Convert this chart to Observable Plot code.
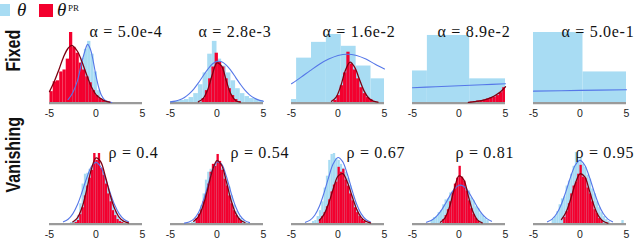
<!DOCTYPE html>
<html>
<head>
<meta charset="utf-8">
<script src="https://cdn.jsdelivr.net/npm/d3@7"></script>
<script src="https://cdn.jsdelivr.net/npm/@observablehq/plot@0.6"></script>
<style>
  html, body { margin: 0; padding: 0; background: #fff; }
  #legend { position: relative; width: 640px; height: 20px; overflow: hidden; font-family: "Liberation Serif", serif; }
  #legend .sw { position: absolute; }
  #legend .lb { position: absolute; top: 1px; font-style: italic; font-size: 19px; line-height: 18px; color: #111; }
  #legend .sup { position: absolute; top: 3px; font-size: 9px; font-style: normal; line-height: 10px; color: #111; }
  #chart svg { display: block; }
</style>
</head>
<body>
<div id="legend">
  <div class="sw" style="left:0px;top:4px;width:10px;height:12px;background:#a8dcf3"></div>
  <div class="lb" style="left:17px">θ</div>
  <div class="sw" style="left:39px;top:4px;width:14px;height:13px;background:#f3002e"></div>
  <div class="lb" style="left:57px">θ</div>
  <div class="sup" style="left:68px">PR</div>
</div>
<div id="chart"></div>
<script>
// ---------- labels ----------
const rowNames = ["Fixed", "Vanishing"];
const alphaTitles = ["α = 5.0e-4", "α = 2.8e-3", "α = 1.6e-2", "α = 8.9e-2", "α = 5.0e-1"];
const rhoTitles = ["ρ = 0.4", "ρ = 0.54", "ρ = 0.67", "ρ = 0.81", "ρ = 0.95"];
const xTicks = [-5, 0, 5];

// ---------- Fixed row (histograms: [first edge, bin width] or explicit edges) ----------
const f1BlueBins = [-2.65, 0.35];
const f1BlueHeights = [0.08, 0.18, 0.30, 0.45, 0.54, 0.62, 0.49, 0.31, 0.12, 0.04, 0.01];
const f1RedBins = [-4.95, 0.35];
const f1RedHeights = [0.11, 0.21, 0.22, 0.31, 0.33, 0.44, 0.71, 0.56, 0.50, 0.40, 0.33, 0.26, 0.20, 0.12, 0.07, 0.04, 0.02];
const f1BlueCurve = [[-3, 0.03], [-2.5, 0.10], [-2, 0.22], [-1.6, 0.38], [-1.2, 0.52], [-0.9, 0.59], [-0.6, 0.54], [-0.3, 0.42], [0, 0.27], [0.3, 0.15], [0.6, 0.07], [0.9, 0.03], [1.3, 0.01], [1.7, 0]];
const f1RedCurve = [[-5, 0.11], [-4.5, 0.21], [-4, 0.33], [-3.5, 0.46], [-3, 0.55], [-2.6, 0.58], [-2, 0.52], [-1.5, 0.41], [-1, 0.28], [-0.5, 0.16], [0, 0.08], [0.5, 0.04], [1, 0.014], [1.5, 0.004]];

const f2BlueBins = [-5, 0.5];
const f2BlueHeights = [0.01, 0.01, 0.02, 0.03, 0.05, 0.09, 0.18, 0.30, 0.49, 0.62, 0.44, 0.37, 0.30, 0.22, 0.14, 0.09, 0.06, 0.04, 0.03, 0.02];
const f2RedBins = [-1.6, 0.35];
const f2RedHeights = [0.04, 0.12, 0.24, 0.36, 0.50, 0.41, 0.36, 0.24, 0.14, 0.07, 0.03, 0.01];
const f2BlueCurve = [[-5, 0.006], [-4.5, 0.014], [-4, 0.028], [-3.5, 0.051], [-3, 0.087], [-2.5, 0.136], [-2, 0.199], [-1.5, 0.269], [-1, 0.336], [-0.5, 0.39], [0, 0.417], [0.5, 0.414], [1, 0.38], [1.5, 0.324], [2, 0.255], [2.5, 0.186], [3, 0.125], [3.5, 0.078], [4, 0.045], [4.5, 0.024], [5, 0.012]];
const f2RedCurve = [[-2, 0.008], [-1.5, 0.039], [-1, 0.13], [-0.5, 0.284], [0, 0.402], [0.5, 0.369], [1, 0.219], [1.5, 0.085], [2, 0.021], [2.5, 0.003]];

const f3BlueBins = [-5, -4.45, -2.85, -1.25, 0.35, 1.95, 3.55, 5];
const f3BlueHeights = [0.03, 0.45, 0.61, 0.69, 0.57, 0.37, 0.24];
const f3RedBins = [-0.45, 0.35];
const f3RedHeights = [0.02, 0.07, 0.17, 0.30, 0.51, 0.39, 0.33, 0.24, 0.15, 0.09, 0.05, 0.03, 0.01];
const f3BlueCurve = [[-5, 0.19], [-4, 0.255], [-3, 0.323], [-2, 0.388], [-1, 0.44], [0, 0.477], [1, 0.49], [2, 0.477], [3, 0.44], [4, 0.388], [5, 0.34]];
const f3RedCurve = [[-0.7, 0.012], [-0.2, 0.055], [0.3, 0.169], [0.8, 0.328], [1.3, 0.41], [1.8, 0.357], [2.3, 0.236], [2.8, 0.118], [3.3, 0.045], [3.8, 0.013], [4.3, 0.003]];

const f4BlueBins = [-5, -3.4, 1.15, 5];
const f4BlueHeights = [0.32, 0.68, 0.24];
const f4RedBins = [1.2, 1.55, 1.9, 2.25, 2.6, 2.95, 3.3, 3.65, 4.0, 4.35, 4.7, 5.0];
const f4RedHeights = [0.005, 0.01, 0.015, 0.02, 0.025, 0.035, 0.045, 0.055, 0.07, 0.10, 0.15];
const f4BlueCurve = [[-5, 0.15], [-2.5, 0.16], [0, 0.17], [2.5, 0.18], [5, 0.19]];
const f4RedCurve = [[1.0, 0.002], [1.5, 0.006], [2, 0.013], [2.5, 0.022], [3, 0.035], [3.5, 0.052], [4, 0.078], [4.5, 0.112], [5, 0.16]];

const f5BlueBins = [-5, 0.32, 5];
const f5BlueHeights = [0.71, 0.31];
const f5RedBins = [];
const f5RedHeights = [];
const f5BlueCurve = [[-5, 0.115], [0, 0.123], [5, 0.13]];
const f5RedCurve = [];

// ---------- Vanishing row ----------
const v1BlueBins = [-2.75, 0.25];
const v1BlueHeights = [0.01, 0.02, 0.04, 0.08, 0.20, 0.40, 0.50, 0.51, 0.55, 0.58, 0.60, 0.61, 0.58, 0.55, 0.50, 0.43, 0.36, 0.27, 0.19, 0.12, 0.07, 0.04, 0.02];
const v1RedBins = [-2.25, 0.25];
const v1RedHeights = [0.01, 0.03, 0.09, 0.16, 0.28, 0.38, 0.46, 0.54, 0.71, 0.64, 0.71, 0.56, 0.49, 0.40, 0.30, 0.22, 0.13, 0.08, 0.04, 0.02, 0.01];
const v1BlueCurve = [[-3.5, 0.017], [-3, 0.043], [-2.5, 0.098], [-2, 0.19], [-1.5, 0.319], [-1, 0.461], [-0.5, 0.576], [0, 0.62], [0.5, 0.576], [1, 0.461], [1.5, 0.319], [2, 0.19], [2.5, 0.098], [3, 0.043], [3.5, 0.017]];
const v1RedCurve = [[-2.5, 0.016], [-2, 0.058], [-1.5, 0.162], [-1, 0.343], [-0.5, 0.549], [0, 0.666], [0.5, 0.627], [1, 0.479], [1.5, 0.298], [2, 0.151], [2.5, 0.062], [3, 0.021], [3.5, 0.006]];

const v2BlueBins = [-2.75, 0.25];
const v2BlueHeights = [0.01, 0.02, 0.05, 0.10, 0.18, 0.30, 0.44, 0.52, 0.55, 0.58, 0.60, 0.62, 0.60, 0.56, 0.50, 0.43, 0.37, 0.28, 0.19, 0.12, 0.07, 0.05, 0.03, 0.01];
const v2RedBins = [-2.25, 0.25];
const v2RedHeights = [0.05, 0.09, 0.14, 0.22, 0.30, 0.40, 0.52, 0.60, 0.58, 0.70, 0.63, 0.54, 0.45, 0.38, 0.28, 0.20, 0.13, 0.08, 0.05, 0.02];
const v2BlueCurve = [[-3.5, 0.004], [-3, 0.015], [-2.5, 0.044], [-2, 0.11], [-1.5, 0.225], [-1, 0.382], [-0.5, 0.537], [0, 0.624], [0.5, 0.602], [1, 0.48], [1.5, 0.316], [2, 0.173], [2.5, 0.078], [3, 0.029], [3.5, 0.009]];
const v2RedCurve = [[-2.5, 0.022], [-2, 0.07], [-1.5, 0.178], [-1, 0.349], [-0.5, 0.535], [0, 0.637], [0.5, 0.591], [1, 0.427], [1.5, 0.24], [2, 0.105], [2.5, 0.036], [3, 0.01]];

const v3BlueBins = [-2.75, 0.25];
const v3BlueHeights = [0.02, 0.03, 0.07, 0.13, 0.22, 0.36, 0.48, 0.64, 0.70, 0.71, 0.66, 0.64, 0.60, 0.56, 0.52, 0.46, 0.38, 0.29, 0.22, 0.14, 0.09, 0.05, 0.02];
const v3RedBins = [-2.0, 0.25];
const v3RedHeights = [0.04, 0.07, 0.11, 0.17, 0.24, 0.32, 0.39, 0.42, 0.57, 0.52, 0.55, 0.44, 0.38, 0.30, 0.23, 0.16, 0.11, 0.07, 0.04, 0.02];
const v3BlueCurve = [[-3.5, 0.012], [-3, 0.034], [-2.5, 0.084], [-2, 0.175], [-1.5, 0.311], [-1, 0.471], [-0.5, 0.608], [0, 0.669], [0.5, 0.628], [1, 0.502], [1.5, 0.342], [2, 0.198], [2.5, 0.098], [3, 0.041], [3.5, 0.015]];
const v3RedCurve = [[-2, 0.032], [-1.5, 0.092], [-1, 0.205], [-0.5, 0.355], [0, 0.48], [0.5, 0.505], [1, 0.421], [1.5, 0.28], [2, 0.148], [2.5, 0.063], [3, 0.021], [3.5, 0.006]];

const v4BlueBins = [-3.0, 0.25];
const v4BlueHeights = [0.03, 0.06, 0.07, 0.11, 0.13, 0.19, 0.24, 0.25, 0.31, 0.32, 0.37, 0.36, 0.40, 0.38, 0.37, 0.35, 0.33, 0.26, 0.23, 0.17, 0.15, 0.10, 0.08, 0.05, 0.03];
const v4RedBins = [-1.75, 0.25];
const v4RedHeights = [0.04, 0.08, 0.14, 0.22, 0.31, 0.40, 0.46, 0.58, 0.47, 0.43, 0.33, 0.23, 0.15, 0.09, 0.05, 0.02];
const v4BlueCurve = [[-3.5, 0.013], [-3, 0.031], [-2.5, 0.065], [-2, 0.12], [-1.5, 0.195], [-1, 0.278], [-0.5, 0.35], [0, 0.388], [0.5, 0.378], [1, 0.324], [1.5, 0.245], [2, 0.163], [2.5, 0.095], [3, 0.049], [3.5, 0.022]];
const v4RedCurve = [[-2, 0.013], [-1.5, 0.058], [-1, 0.175], [-0.5, 0.352], [0, 0.482], [0.5, 0.445], [1, 0.279], [1.5, 0.118], [2, 0.034], [2.5, 0.007]];

const v5BlueBins = [-3.0, 0.25];
const v5BlueHeights = [0.04, 0.07, 0.12, 0.19, 0.25, 0.27, 0.38, 0.43, 0.50, 0.58, 0.72, 0.62, 0.66, 0.60, 0.57, 0.49, 0.45, 0.35, 0.30, 0.22, 0.16, 0.11, 0.07, 0.04, 0.02, 0, 0, 0, 0, 0, 0.03];
const v5RedBins = [-1.75, 0.25];
const v5RedHeights = [0.06, 0.12, 0.20, 0.30, 0.38, 0.42, 0.50, 0.59, 0.47, 0.46, 0.36, 0.30, 0.22, 0.14, 0.10, 0.05, 0.03];
const v5BlueCurve = [[-3.5, 0.017], [-3, 0.044], [-2.5, 0.101], [-2, 0.196], [-1.5, 0.329], [-1, 0.475], [-0.5, 0.594], [0, 0.64], [0.5, 0.594], [1, 0.475], [1.5, 0.329], [2, 0.196], [2.5, 0.101], [3, 0.044], [3.5, 0.017]];
const v5RedCurve = [[-2, 0.04], [-1.5, 0.115], [-1, 0.248], [-0.5, 0.406], [0, 0.504], [0.5, 0.475], [1, 0.339], [1.5, 0.183], [2, 0.075], [2.5, 0.023], [3, 0.005]];

// ---------- layout (title offsets, px from panel's left edge) ----------
const titleDx = [[40, 28, 31, 25, 28], [59, 60, 55, 43, 42]];

// ---------- assemble ----------
function hist(bins, heights) {
  if (!heights.length) return [];
  const explicit = bins.length === heights.length + 1;
  const edge = i => explicit ? bins[i] : bins[0] + i * bins[1];
  return heights.map((h, i) => ({x1: Math.max(-5, edge(i)), x2: Math.min(5, edge(i + 1)), h}));
}
const panelSpecs = [
  ["Fixed", 0, alphaTitles[0], f1BlueBins, f1BlueHeights, f1RedBins, f1RedHeights, f1BlueCurve, f1RedCurve],
  ["Fixed", 1, alphaTitles[1], f2BlueBins, f2BlueHeights, f2RedBins, f2RedHeights, f2BlueCurve, f2RedCurve],
  ["Fixed", 2, alphaTitles[2], f3BlueBins, f3BlueHeights, f3RedBins, f3RedHeights, f3BlueCurve, f3RedCurve],
  ["Fixed", 3, alphaTitles[3], f4BlueBins, f4BlueHeights, f4RedBins, f4RedHeights, f4BlueCurve, f4RedCurve],
  ["Fixed", 4, alphaTitles[4], f5BlueBins, f5BlueHeights, f5RedBins, f5RedHeights, f5BlueCurve, f5RedCurve],
  ["Vanishing", 0, rhoTitles[0], v1BlueBins, v1BlueHeights, v1RedBins, v1RedHeights, v1BlueCurve, v1RedCurve],
  ["Vanishing", 1, rhoTitles[1], v2BlueBins, v2BlueHeights, v2RedBins, v2RedHeights, v2BlueCurve, v2RedCurve],
  ["Vanishing", 2, rhoTitles[2], v3BlueBins, v3BlueHeights, v3RedBins, v3RedHeights, v3BlueCurve, v3RedCurve],
  ["Vanishing", 3, rhoTitles[3], v4BlueBins, v4BlueHeights, v4RedBins, v4RedHeights, v4BlueCurve, v4RedCurve],
  ["Vanishing", 4, rhoTitles[4], v5BlueBins, v5BlueHeights, v5RedBins, v5RedHeights, v5BlueCurve, v5RedCurve]
];
const blueBars = [], redBars = [], blueLines = [], redLines = [], titles = [];
panelSpecs.forEach(([row, col, title, bb, bh, rb, rh, bc, rc]) => {
  const key = row + col;
  hist(bb, bh).forEach(d => blueBars.push({...d, row, col}));
  hist(rb, rh).forEach(d => redBars.push({...d, row, col}));
  bc.forEach(([x, y]) => blueLines.push({x, y, row, col, key}));
  rc.forEach(([x, y]) => redLines.push({x, y, row, col, key}));
  titles.push({row, col, title, dx: titleDx[rowNames.indexOf(row)][col]});
});

const serif = "Liberation Serif, DejaVu Serif, serif";
const sans = "Liberation Sans, Arial, sans-serif";

const chart = Plot.plot({
  width: 640,
  height: 221,
  marginTop: 11, marginRight: 12, marginBottom: 17, marginLeft: 48,
  facet: {marginTop: 11, marginRight: 12, marginBottom: 17, marginLeft: 48},
  fx: {domain: [0, 1, 2, 3, 4], paddingInner: 0.228, paddingOuter: 0, axis: null},
  fy: {domain: rowNames, paddingInner: 0.418, paddingOuter: 0, axis: null},
  x: {domain: [-5, 5], axis: null},
  y: {domain: [0, 0.71], axis: null},
  style: {background: "#fff", fontFamily: sans, fontSize: "10px", color: "#222", overflow: "visible"},
  marks: [
    Plot.ruleY([0], {stroke: "#9a9a9a", strokeWidth: 2.2, dy: 0.6}),
    Plot.rect(blueBars, {x1: "x1", x2: "x2", y1: 0, y2: "h", fx: "col", fy: "row", fill: "#a8dcf3"}),
    Plot.rect(redBars, {x1: "x1", x2: "x2", y1: 0, y2: "h", fx: "col", fy: "row", fill: "#f3002e"}),
    Plot.line(blueLines, {x: "x", y: "y", z: "key", fx: "col", fy: "row", stroke: "#5577e8", strokeWidth: 1.1, curve: "catmull-rom"}),
    Plot.line(redLines, {x: "x", y: "y", z: "key", fx: "col", fy: "row", stroke: "#7d0011", strokeWidth: 1.3, curve: "catmull-rom"}),
    Plot.axisX({ticks: xTicks, tickSize: 0, tickPadding: 7.5, tickFormat: d => String(d), facetAnchor: null, fontSize: 10.5, fontFamily: sans}),
    ...titles.map(t => Plot.text([t], {fx: "col", fy: "row", text: "title", frameAnchor: "top-left", textAnchor: "start", lineAnchor: "bottom", dx: t.dx, dy: 4, fontFamily: serif, fontSize: 16, fill: "#111"})),
    Plot.text(rowNames.map(r => ({row: r, col: 0, label: r})), {fx: "col", fy: "row", text: "label", frameAnchor: "left", rotate: -90, dx: -36, dy: 4, fontFamily: sans, fontWeight: "bold", fontSize: 20, fill: "#111"})
  ]
});

// styling touches: condensed row labels, wider math-like titles
d3.select(chart).selectAll("text").each(function () {
  const s = d3.select(this);
  const t = this.textContent;
  if (rowNames.includes(t)) {
    const tr = s.attr("transform");
    if (tr) s.attr("transform", tr + " scale(0.8,1)");
  } else if (/^[αρ] =/.test(t)) {
    s.attr("letter-spacing", "0.7");
  }
});
document.getElementById("chart").appendChild(chart);
</script>
</body>
</html>
